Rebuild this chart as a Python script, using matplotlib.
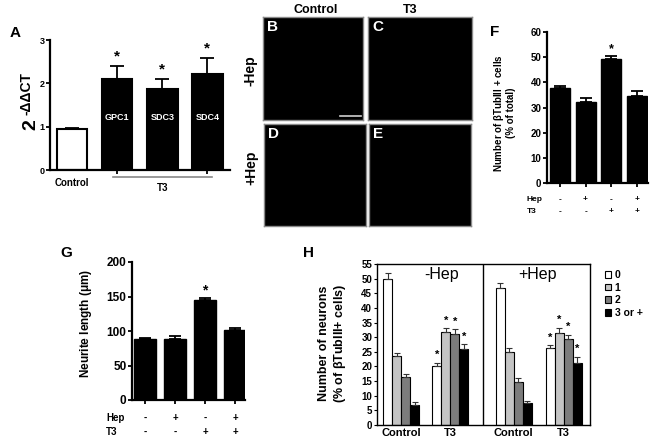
import numpy as np
import matplotlib
matplotlib.use("Agg")
import matplotlib.pyplot as plt
from matplotlib.patches import Patch
import matplotlib.transforms as mtrans

plt.rcParams['font.family'] = ['Liberation Sans', 'DejaVu Sans']
plt.rcParams['font.weight'] = 'bold'
plt.rcParams['mathtext.fontset'] = 'custom'
plt.rcParams['mathtext.rm'] = 'Liberation Sans:bold'
plt.rcParams['mathtext.bf'] = 'Liberation Sans:bold'
plt.rcParams['mathtext.it'] = 'Liberation Sans:bold'

# ---- data ----
# A: qPCR fold change
a_labels = ["Control", "GPC1", "SDC3", "SDC4"]
a_values = [0.95, 2.10, 1.86, 2.21]
a_errors = [0.02, 0.31, 0.24, 0.38]
a_signif = [False, True, True, True]

# F: % beta-TubIII+ cells
f_values = [37.7, 32.2, 49.1, 34.6]
f_errors = [0.8, 1.5, 1.3, 1.8]
f_signif = [False, False, True, False]
hep_signs = ["-", "+", "-", "+"]
t3_signs = ["-", "-", "+", "+"]

# G: neurite length (um)
g_values = [89, 89, 145, 101]
g_errors = [1.5, 3.5, 3.5, 4.0]
g_signif = [False, False, True, False]

# H: neurons by number of neurites
h_conditions = ["Control", "T3", "Control", "T3"]
h_panels = ["-Hep", "+Hep"]
h_series = ["0", "1", "2", "3 or +"]
h_colors = ["white", "#c4c4c4", "#7c7c7c", "black"]
h_values = np.array([
    [50.0, 23.5, 16.3, 6.8],
    [20.3, 31.9, 31.2, 26.1],
    [46.7, 25.0, 14.7, 7.5],
    [26.2, 31.3, 29.3, 21.2],
])
h_errors = np.array([
    [1.8, 1.2, 1.2, 1.0],
    [1.0, 1.3, 1.7, 1.5],
    [1.7, 1.2, 1.3, 0.8],
    [1.2, 2.0, 1.6, 2.2],
])
h_signif = [False, True, False, True]

W, H = 652, 443
fig = plt.figure(figsize=(W / 100, H / 100), dpi=100)


def axes_px(x0, y0, x1, y1):
    return fig.add_axes([x0 / W, 1 - y1 / H, (x1 - x0) / W, (y1 - y0) / H])


def ftext(x, y, s, **kw):
    kw.setdefault("ha", "center")
    kw.setdefault("va", "center")
    return fig.text(x / W, 1 - y / H, s, **kw)


def style_prism(ax, lw=1.6):
    ax.spines["top"].set_visible(False)
    ax.spines["right"].set_visible(False)
    ax.spines["left"].set_linewidth(lw)
    ax.spines["bottom"].set_linewidth(lw)
    ax.tick_params(axis="y", direction="out", length=3, width=1.3, pad=1)
    ax.tick_params(axis="x", direction="out", length=3, width=1.3)


# ---- A ----
axA = axes_px(50, 40, 230, 170)
xa = np.arange(len(a_values))
axA.bar(xa, a_values, width=0.675, color=["white", "black", "black", "black"],
        edgecolor="black", linewidth=1.5,
        yerr=[np.zeros(4), a_errors], capsize=5,
        error_kw=dict(elinewidth=1.3, capthick=1.3))
axA.set_xlim(-0.49, 3.5)
axA.set_ylim(0, 3)
axA.set_yticks([0, 1, 2, 3])
axA.tick_params(axis="y", labelsize=6.5)
style_prism(axA)
axA.set_xticks([1, 3])
axA.set_xticklabels([])
for i, lab in enumerate(a_labels[1:], start=1):
    axA.text(i, 1.2, lab, color="white", ha="center", va="center", fontsize=6.5)
for i in range(4):
    if a_signif[i]:
        axA.text(i, a_values[i] + a_errors[i] + 0.05, "*", ha="center",
                 va="bottom", fontsize=11)
trA = mtrans.blended_transform_factory(axA.transData, axA.transAxes)
axA.text(0, -0.06, "Control", transform=trA, ha="center", va="top", fontsize=7)
axA.plot([0.9, 3.1], [-0.055, -0.055], transform=trA, color="#888888",
         lw=1.2, clip_on=False)
axA.text(2, -0.1, "T3", transform=trA, ha="center", va="top", fontsize=7)
# y label: big "2" with superscript
ftext(30.5, 125, "2", rotation=90, fontsize=14)
ftext(26.5, 94, "-\u0394\u0394CT", rotation=90, fontsize=10)
ftext(15, 33, "A", fontsize=11)

# ---- B-E image panels ----
img_boxes = {"B": (263, 17, 363, 120), "C": (368, 17, 472, 120),
             "D": (264, 124, 366, 226), "E": (369, 124, 471, 226)}
for name, box in img_boxes.items():
    ax = axes_px(*box)
    ax.set_facecolor("black")
    ax.set_xticks([])
    ax.set_yticks([])
    for sp in ax.spines.values():
        sp.set_color("#8a8a8a")
        sp.set_linewidth(1.0)
    ax.text(0.04, 0.9, name, transform=ax.transAxes, color="white",
            fontsize=11, ha="left", va="center")
    if name == "B":
        ax.plot([0.77, 0.98], [0.04, 0.04], transform=ax.transAxes,
                color="#cfcfcf", lw=1.2)
ftext(316, 10, "Control", fontsize=9)
ftext(410, 10, "T3", fontsize=9)
ftext(251, 71, "-Hep", rotation=90, fontsize=10)
ftext(251, 168, "+Hep", rotation=90, fontsize=10)


def small_bars(ax, values, errors, signif, width, star_size, star_gap):
    x = np.arange(len(values))
    ax.bar(x, values, width=width, color="black", edgecolor="black",
           yerr=[np.zeros(len(values)), errors], capsize=4,
           error_kw=dict(elinewidth=1.3, capthick=1.3))
    for i in x:
        if signif[i]:
            ax.text(i, values[i] + errors[i] + star_gap, "*", ha="center",
                    va="bottom", fontsize=star_size)
    ax.set_xticks(x)
    ax.set_xticklabels([])


def sign_rows(ax, y_hep, y_t3, x_lab, size):
    tr = mtrans.blended_transform_factory(ax.transData, ax.transAxes)
    for i, (h, t) in enumerate(zip(hep_signs, t3_signs)):
        ax.text(i, y_hep, h, transform=tr, ha="center", va="center", fontsize=size)
        ax.text(i, y_t3, t, transform=tr, ha="center", va="center", fontsize=size)
    ax.text(x_lab, y_hep, "Hep", transform=ax.transAxes, ha="left", va="center", fontsize=size)
    ax.text(x_lab, y_t3, "T3", transform=ax.transAxes, ha="left", va="center", fontsize=size)


# ---- F ----
axF = axes_px(547, 32, 648, 183)
small_bars(axF, f_values, f_errors, f_signif, 0.78, 9, 0.3)
axF.set_xlim(-0.5, 3.43)
axF.set_ylim(0, 60)
axF.set_yticks(range(0, 61, 10))
axF.tick_params(axis="y", labelsize=7)
style_prism(axF)
sign_rows(axF, -0.107, -0.19, -0.2, 6)
ftext(504, 113, "Number of $\\beta$TubIII + cells\n(% of total)", rotation=90,
      fontsize=7, linespacing=1.1)
ftext(495, 32, "F", fontsize=11)

# ---- G ----
axG = axes_px(132, 262, 245, 400)
small_bars(axG, g_values, g_errors, g_signif, 0.73, 10, 0.5)
axG.set_xlim(-0.43, 3.33)
axG.set_ylim(0, 200)
axG.set_yticks(range(0, 201, 50))
axG.tick_params(axis="y", labelsize=8.5)
style_prism(axG)
sign_rows(axG, -0.13, -0.23, -0.23, 7)
ftext(86, 323, "Neurite length ($\\mu$m)", rotation=90, fontsize=8.5)
ftext(66, 253, "G", fontsize=11)

# ---- H ----
axH = axes_px(377, 264, 590, 425)
group_centers = [2.7, 8.15, 15.2, 20.75]
offsets = np.array([-1.5, -0.5, 0.5, 1.5])
for g, gc in enumerate(group_centers):
    for s in range(4):
        axH.bar(gc + offsets[s], h_values[g, s], width=1.0, color=h_colors[s],
                edgecolor="black", linewidth=0.8,
                yerr=[[0], [h_errors[g, s]]], capsize=2,
                error_kw=dict(elinewidth=0.8, capthick=0.8, ecolor="#333333"))
        if h_signif[g]:
            axH.text(gc + offsets[s], h_values[g, s] + h_errors[g, s] + 0.8, "*",
                     ha="center", va="bottom", fontsize=8)
axH.axvline(11.8, color="black", lw=1.0)
axH.set_xlim(0, 23.67)
axH.set_ylim(0, 55)
axH.set_yticks(range(0, 56, 5))
axH.set_xticks([])
axH.tick_params(axis="y", direction="out", length=2.5, labelsize=7, pad=1)
for sp in axH.spines.values():
    sp.set_linewidth(1.0)
trH = mtrans.blended_transform_factory(axH.transData, axH.transAxes)
for gc, cond in zip(group_centers, h_conditions):
    axH.text(gc, -0.02, cond, transform=trH, ha="center", va="top", fontsize=8)
axH.text(7.2, 0.935, h_panels[0], transform=trH, ha="center", va="center",
         fontsize=11.5, fontweight="normal")
axH.text(17.8, 0.935, h_panels[1], transform=trH, ha="center", va="center",
         fontsize=11.5, fontweight="normal")
handles = [Patch(facecolor=c, edgecolor="black", linewidth=0.8) for c in h_colors]
fig.legend(handles, h_series, loc="upper left",
           bbox_to_anchor=(600 / W, 1 - 265 / H), frameon=False, fontsize=7.5,
           handlelength=0.6, handleheight=0.6, handletextpad=0.3,
           labelspacing=0.25, borderpad=0)
ftext(333, 343, "Number of neurons\n(% of $\\beta$TubIII+ cells)", rotation=90,
      fontsize=9, linespacing=1.1)
ftext(309, 253, "H", fontsize=11)

fig.savefig("out.png", dpi=100, facecolor="white")
